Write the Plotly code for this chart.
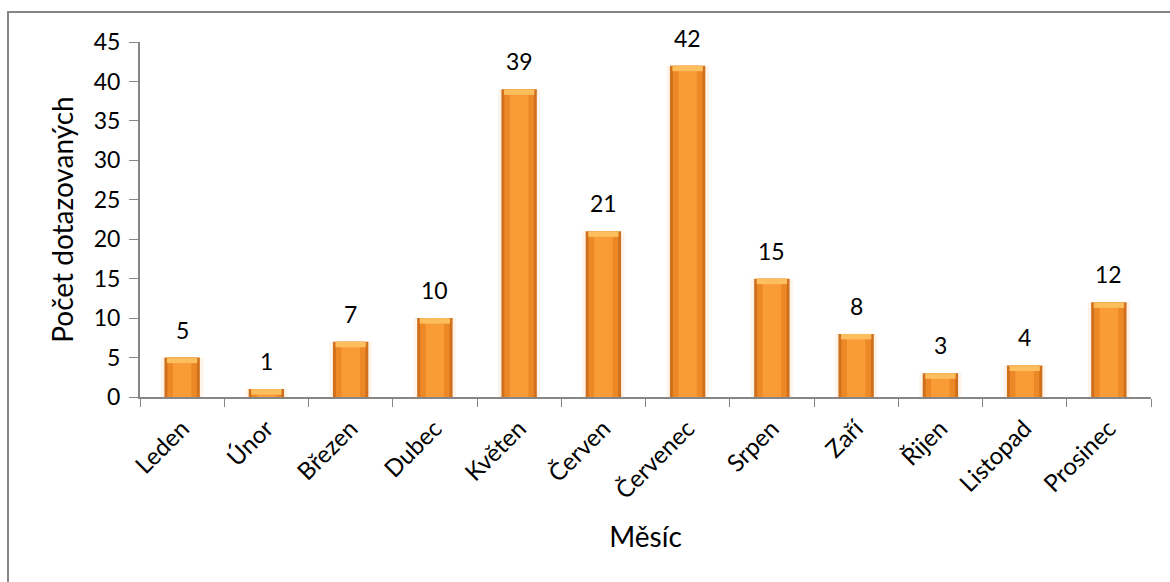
import plotly.graph_objects as go

months = ["Leden", "Únor", "Březen", "Dubec", "Květen", "Červen", "Červenec",
          "Srpen", "Zaří", "Řijen", "Listopad", "Prosinec"]
counts = [5, 1, 7, 10, 39, 21, 42, 15, 8, 3, 4, 12]
y_ticks = [0, 5, 10, 15, 20, 25, 30, 35, 40, 45]

FONT = "Lato"
cap = 0.7
cap_base = [max(v - cap, 0) for v in counts]
cap_h = [v - b for v, b in zip(counts, cap_base)]

fig = go.Figure()
# soft glow
fig.add_bar(x=months, y=counts, width=0.5, marker=dict(color="rgba(250,170,90,0.13)", line_width=0),
            hoverinfo="skip", showlegend=False)
# outer darker bar
fig.add_bar(x=months, y=counts, width=0.42, marker=dict(color="#D0701C", line_width=0), showlegend=False)
# middle
fig.add_bar(x=months, y=counts, width=0.35, marker=dict(color="#EC8826", line_width=0),
            hoverinfo="skip", showlegend=False)
# center highlight
fig.add_bar(x=months, y=counts, width=0.22, marker=dict(color="#F99C38", line_width=0),
            hoverinfo="skip", showlegend=False)
# top cap
fig.add_bar(x=months, y=cap_h, base=cap_base, width=0.36, marker=dict(color="#FDBE5E", line_width=0),
            hoverinfo="skip", showlegend=False)

for m, v in zip(months, counts):
    fig.add_annotation(x=m, y=v, text=str(v), showarrow=False, yanchor="bottom", yshift=12,
                       font=dict(family=FONT, size=23, color="#000000"))

fig.update_layout(
    barmode="overlay",
    width=1170, height=582,
    margin=dict(l=140, r=19, t=42, b=185),
    paper_bgcolor="white", plot_bgcolor="white",
    font=dict(family=FONT, size=22, color="#000000"),
    xaxis=dict(
        type="category", tickangle=-45, tickson="boundaries",
        ticks="outside", ticklen=8, tickcolor="#868686",
        showline=True, linecolor="#868686", linewidth=2, showgrid=False,
        tickfont=dict(family=FONT, size=24), ticklabelstandoff=6,
        title=dict(text="Měsíc", font=dict(family=FONT, size=28), standoff=24),
    ),
    yaxis=dict(
        range=[0, 45], tickvals=y_ticks, ticks="outside", ticklen=9, tickcolor="#868686",
        showline=True, linecolor="#868686", linewidth=2, showgrid=False, zeroline=False,
        tickfont=dict(family=FONT, size=23), ticklabelstandoff=4,
        title=dict(text="Počet dotazovaných", font=dict(family=FONT, size=28), standoff=12),
    ),
    shapes=[dict(type="rect", xref="paper", yref="paper",
                 x0=(8 - 140) / 1011, x1=1.2, y0=-0.8, y1=1 + (42 - 12) / 355,
                 line=dict(color="#868686", width=2), fillcolor="rgba(0,0,0,0)")],
)

fig.write_html("out.html")
